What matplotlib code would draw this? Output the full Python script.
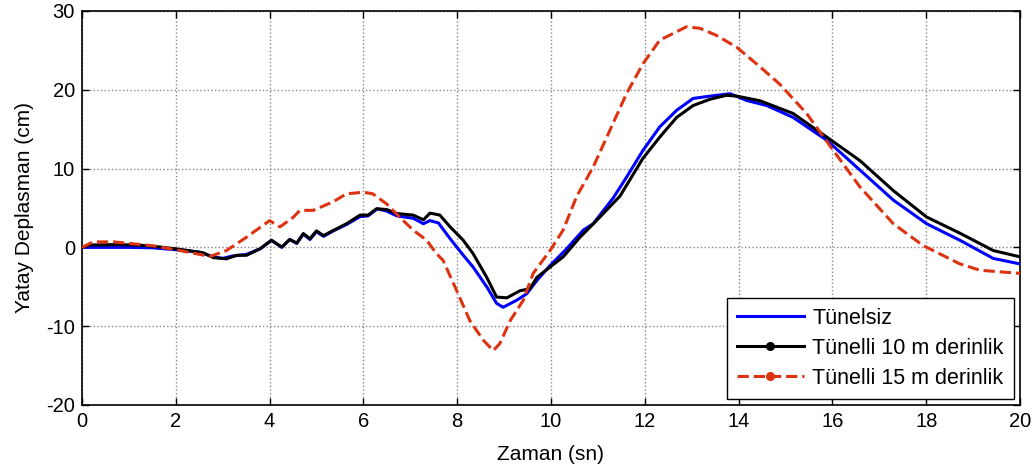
import matplotlib
matplotlib.use("Agg")
import matplotlib.pyplot as plt
from matplotlib.lines import Line2D

plt.rcParams['font.family'] = ['Liberation Sans', 'DejaVu Sans']
plt.rcParams['axes.unicode_minus'] = False

t_blue = [0, 0.5, 1.0, 1.5, 2.0, 2.5, 2.8, 3.0, 3.2, 3.5, 3.8, 4.04, 4.26, 4.43, 4.58, 4.72,
          4.86, 5.0, 5.15, 5.36, 5.64, 5.93, 6.1, 6.3, 6.5, 6.71, 7.06, 7.28, 7.42, 7.6, 7.85,
          8.13, 8.34, 8.63, 8.84, 8.98, 9.27, 9.48, 9.7, 9.98, 10.33, 10.69, 10.9, 11.33, 11.61,
          11.96, 12.32, 12.68, 13.03, 13.39, 13.82, 14.17, 14.6, 15.16, 15.88, 16.59, 17.3,
          18.01, 18.72, 19.43, 20]
y_blue = [0, 0, 0, -0.05, -0.3, -0.6, -1.2, -1.4, -1.1, -0.9, -0.2, 0.9, 0.0, 1.0, 0.5, 1.7,
          1.0, 2.0, 1.4, 2.1, 2.9, 3.9, 4.0, 4.9, 4.6, 4.0, 3.7, 3.0, 3.4, 3.1, 1.1,
          -1.0, -2.5, -5.0, -7.1, -7.6, -6.7, -5.9, -4.2, -2.3, -0.2, 2.2, 3.0, 6.3, 8.9,
          12.3, 15.3, 17.4, 18.9, 19.2, 19.5, 18.65, 18.0, 16.5, 13.6, 9.8, 6.0,
          3.0, 0.9, -1.4, -2.1]

t_black = [0, 0.17, 0.67, 1.2, 1.66, 2.09, 2.59, 2.8, 3.08, 3.3, 3.51, 3.8, 4.04, 4.26, 4.43,
           4.58, 4.72, 4.86, 5.0, 5.15, 5.36, 5.64, 5.93, 6.1, 6.28, 6.5, 6.71, 7.06, 7.28,
           7.42, 7.63, 7.85, 8.13, 8.34, 8.63, 8.84, 9.06, 9.34, 9.55, 9.7, 9.98, 10.26,
           10.62, 10.97, 11.47, 11.96, 12.32, 12.68, 13.03, 13.39, 13.74, 13.96, 14.46, 15.16,
           15.88, 16.59, 17.3, 18.01, 18.72, 19.43, 20]
y_black = [0, 0.3, 0.35, 0.3, 0.05, -0.25, -0.7, -1.3, -1.45, -1.0, -1.0, -0.15, 0.9, 0.05, 1.0,
           0.55, 1.75, 1.1, 2.1, 1.5, 2.15, 3.0, 4.1, 4.1, 4.9, 4.8, 4.3, 4.1, 3.5,
           4.35, 4.1, 2.6, 0.9, -0.8, -3.8, -6.3, -6.4, -5.5, -5.25, -3.8, -2.5, -1.2,
           1.3, 3.4, 6.5, 11.3, 14.0, 16.5, 18.0, 18.8, 19.3, 19.2, 18.6, 17.0,
           14.0, 11.0, 7.2, 3.85, 1.8, -0.4, -1.2]

t_red = [0, 0.24, 0.67, 1.02, 1.52, 2.09, 2.73, 3.08, 3.51, 4.0, 4.22, 4.5, 4.65, 4.93, 5.36,
         5.64, 6.0, 6.2, 6.5, 6.78, 7.06, 7.35, 7.56, 7.7, 7.99, 8.27, 8.56, 8.77, 8.91, 9.13,
         9.41, 9.62, 9.98, 10.26, 10.55, 10.9, 11.61, 11.96, 12.32, 12.89, 13.18, 13.53, 13.96,
         14.46, 14.88, 15.45, 16.02, 16.59, 17.3, 17.93, 18.72, 19.15, 20]
y_red = [0, 0.7, 0.7, 0.5, 0.2, -0.4, -1.15, -0.4, 1.3, 3.4, 2.6, 3.8, 4.7, 4.7, 5.8,
         6.8, 7.0, 6.8, 5.5, 3.8, 2.2, 0.9, -0.8, -1.65, -5.5, -9.3, -11.8, -13.1, -12.2, -9.3,
         -6.7, -3.3, -0.4, 2.2, 6.5, 10.2, 19.5, 23.3, 26.3, 28.0, 27.8, 26.9, 25.4,
         22.9, 20.7, 17.0, 12.3, 7.65, 3.0, 0.25, -2.1, -2.9, -3.3]

labels = ['Tünelsiz', 'Tünelli 10 m derinlik', 'Tünelli 15 m derinlik']
x_ticks = [0, 2, 4, 6, 8, 10, 12, 14, 16, 18, 20]
y_ticks = [-20, -10, 0, 10, 20, 30]

c_blue = '#0000FF'
c_black = '#000000'
c_red = '#DD3311'
lw = 2.2

fig = plt.figure(figsize=(10.35, 4.72), dpi=100)
ax = fig.add_axes([0.0792, 0.142, 0.9063, 0.8347])

ax.plot(t_blue, y_blue, color=c_blue, lw=lw, zorder=3)
ax.plot(t_black, y_black, color=c_black, lw=lw, zorder=4)
ax.plot(t_red, y_red, color=c_red, lw=lw, ls='--', zorder=5)

ax.set_xlim(0, 20)
ax.set_ylim(-20, 30)
ax.set_xticks(x_ticks)
ax.set_yticks(y_ticks)
ax.tick_params(direction='in', top=True, right=True, length=5, width=1,
               labelsize=14.5, pad=5)
ax.grid(True, color='#888888', linestyle=':', linewidth=1.0)
ax.set_axisbelow(True)
for s in ax.spines.values():
    s.set_linewidth(1.2)

ax.set_xlabel('Zaman (sn)', fontsize=15, labelpad=10)
ax.set_ylabel('Yatay Deplasman (cm)', fontsize=15, labelpad=9)

handles = [
    Line2D([], [], color=c_blue, lw=lw),
    Line2D([], [], color=c_black, lw=lw, marker='o', markersize=5.5),
    Line2D([], [], color=c_red, lw=lw, ls='--', marker='o', markersize=5.5),
]
leg = ax.legend(handles, labels, loc='lower right', fontsize=15.5, frameon=True,
                fancybox=False, framealpha=1, edgecolor='black', handlelength=3.1,
                handletextpad=0.4, borderaxespad=0.3, borderpad=0.45, labelspacing=0.42)
leg.get_frame().set_linewidth(1.0)

fig.savefig('out.png', dpi=100)
